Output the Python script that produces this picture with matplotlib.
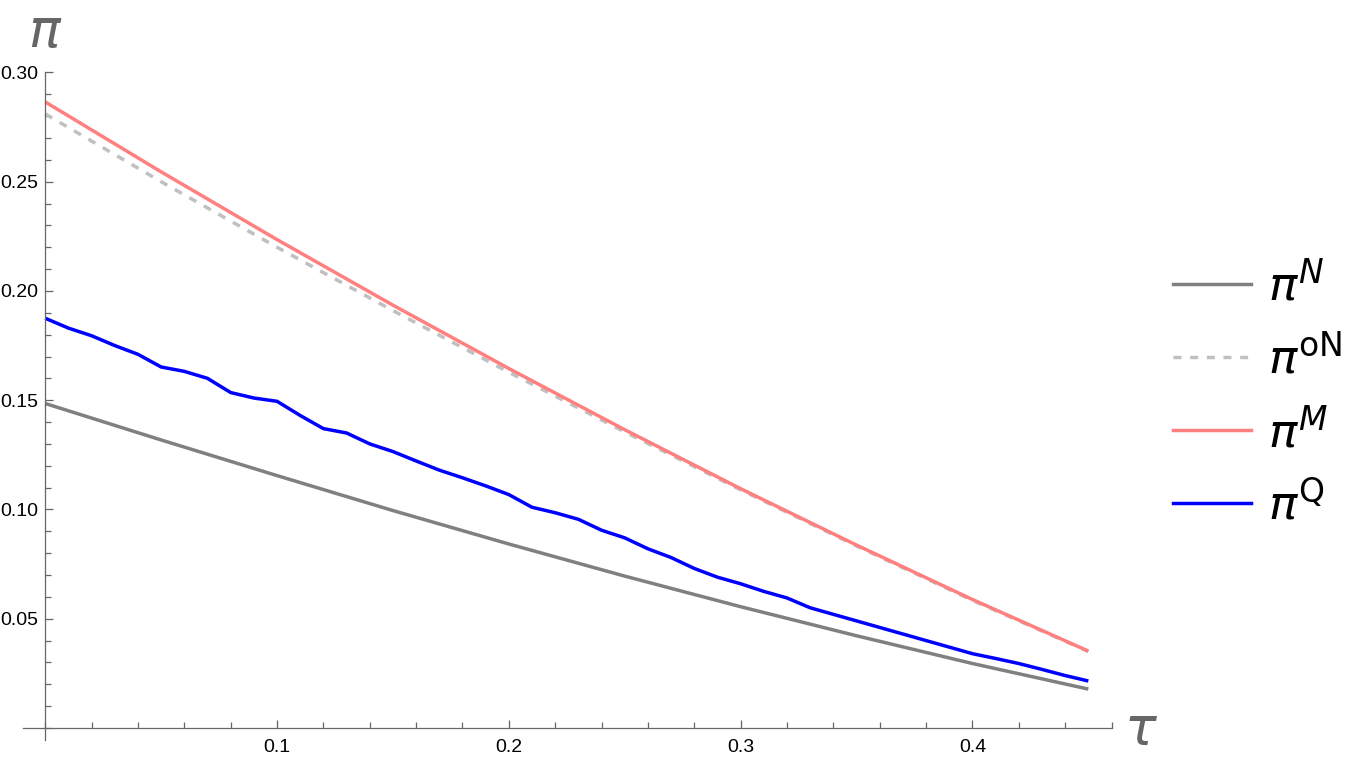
import numpy as np
import matplotlib
matplotlib.use("Agg")
import matplotlib.pyplot as plt
from matplotlib.ticker import MultipleLocator, FixedLocator, FormatStrFormatter
from matplotlib.lines import Line2D

plt.rcParams["font.family"] = ["Liberation Sans", "DejaVu Sans"]
plt.rcParams["mathtext.fontset"] = "dejavusans"

# ---------------------------------------------------------------------------
# data
# ---------------------------------------------------------------------------
TAU_COARSE = [0.00, 0.05, 0.10, 0.15, 0.20, 0.25, 0.30, 0.35, 0.40, 0.45]

PI_N  = [0.1485, 0.1318, 0.1155, 0.0995, 0.0842, 0.0695, 0.0555, 0.0422, 0.0295, 0.0178]
PI_ON = [0.2810, 0.2500, 0.2200, 0.1910, 0.1628, 0.1355, 0.1090, 0.0833, 0.0584, 0.0350]
PI_M  = [0.2865, 0.2545, 0.2235, 0.1935, 0.1645, 0.1365, 0.1095, 0.0837, 0.0588, 0.0352]

TAU_FINE = [i / 100 for i in range(46)]
PI_Q = [
    0.1875, 0.1830, 0.1795, 0.1750, 0.1710, 0.1652, 0.1632, 0.1600, 0.1535, 0.1510,
    0.1495, 0.1430, 0.1370, 0.1350, 0.1300, 0.1265, 0.1222, 0.1180, 0.1145, 0.1108,
    0.1068, 0.1010, 0.0985, 0.0955, 0.0905, 0.0870, 0.0820, 0.0780, 0.0730, 0.0690,
    0.0660, 0.0625, 0.0595, 0.0550, 0.0520, 0.0490, 0.0460, 0.0430, 0.0400, 0.0370,
    0.0340, 0.0318, 0.0295, 0.0268, 0.0240, 0.0215,
]

LABELS = [r"$\pi^{N}$", r"$\pi^{\mathrm{oN}}$", r"$\pi^{M}$", r"$\pi^{\mathrm{Q}}$"]
COLORS = ["#808080", "#c0c0c0", "#ff8080", "#0000ff"]

# ---------------------------------------------------------------------------
W, H = 1360, 764
fig = plt.figure(figsize=(W / 100, H / 100), dpi=100)
ax = fig.add_axes([23 / W, 1 - 740 / H, (1112 - 23) / W, (740 - 72) / H])

lw = 2.5
ax.plot(TAU_COARSE, PI_N, color=COLORS[0], lw=lw, solid_capstyle="butt")
ax.plot(TAU_COARSE, PI_ON, color=COLORS[1], lw=lw, dashes=(2.3, 2.5))
ax.plot(TAU_COARSE, PI_M, color=COLORS[2], lw=lw, solid_capstyle="butt")
ax.plot(TAU_FINE, PI_Q, color=COLORS[3], lw=lw, solid_capstyle="butt")

ax.set_xlim(-0.0096, 0.4602)
ax.set_ylim(-0.0055, 0.3002)

for s in ("top", "right"):
    ax.spines[s].set_visible(False)
for s in ("left", "bottom"):
    ax.spines[s].set_position(("data", 0))
    ax.spines[s].set_color("#666666")
    ax.spines[s].set_linewidth(0.9)

ax.xaxis.set_major_locator(FixedLocator([0.1, 0.2, 0.3, 0.4]))
ax.xaxis.set_minor_locator(MultipleLocator(0.02))
ax.xaxis.set_major_formatter(FormatStrFormatter("%.1f"))
ax.yaxis.set_major_locator(FixedLocator([0.05, 0.10, 0.15, 0.20, 0.25, 0.30]))
ax.yaxis.set_minor_locator(MultipleLocator(0.01))
ax.yaxis.set_major_formatter(FormatStrFormatter("%.2f"))

ax.tick_params(which="both", direction="in", color="#666666", width=0.9,
               labelsize=14, labelcolor="black")
ax.tick_params(which="major", length=6)
ax.tick_params(which="minor", length=4)
ax.tick_params(axis="x", which="major", pad=8)
ax.tick_params(axis="y", which="major", pad=5)

fig.text(45 / W, 1 - 33 / H, r"$\pi$", fontsize=38, color="#666666",
         ha="center", va="center")
fig.text(1141 / W, 1 - 731 / H, r"$\tau$", fontsize=38, color="#666666",
         ha="center", va="center")

handles = [
    Line2D([], [], color=COLORS[0], lw=lw),
    Line2D([], [], color=COLORS[1], lw=lw, dashes=(2.3, 2.5)),
    Line2D([], [], color=COLORS[2], lw=lw),
    Line2D([], [], color=COLORS[3], lw=lw),
]
fig.legend(handles, LABELS, loc="center left", bbox_to_anchor=(1173 / W, 1 - 396 / H),
           frameon=False, fontsize=34, handlelength=1.65, handletextpad=0.36,
           labelspacing=0.54, borderpad=0, borderaxespad=0)

fig.savefig("out.png", dpi=100)
